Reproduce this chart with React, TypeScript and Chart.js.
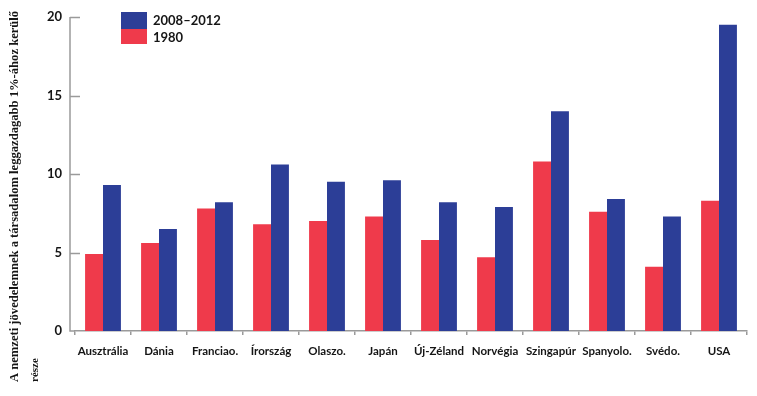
import React, { useEffect, useRef } from "react";
import { Chart, registerables } from "chart.js";

Chart.register(...registerables);

const categories = [
  "Ausztrália", "Dánia", "Franciao.", "Írország", "Olaszo.", "Japán",
  "Új-Zéland", "Norvégia", "Szingapúr", "Spanyolo.", "Svédo.", "USA",
];
const values1980 = [4.9, 5.6, 7.8, 6.8, 7.0, 7.3, 5.8, 4.7, 10.8, 7.6, 4.1, 8.3];
const values2008 = [9.3, 6.5, 8.2, 10.6, 9.5, 9.6, 8.2, 7.9, 14.0, 8.4, 7.3, 19.5];
const seriesLabels = ["1980", "2008–2012"];
const yTicks = [0, 5, 10, 15, 20];
const yTitle = [
  "A nemzeti jövedelemnek a társadalom leggazdagabb 1%-ához kerülő",
  "része",
];

const RED = "#ef3a4b";
const BLUE = "#2c3e97";
const AXIS = "#9a9a9a";
const TEXT = "#151515";
const AXIS_X = 70;

export default function App() {
  const ref = useRef<HTMLCanvasElement | null>(null);

  useEffect(() => {
    document.body.style.margin = "0";
    if (!ref.current) return;

    const extras = {
      id: "extras",
      afterDraw(chart: any) {
        const ctx = chart.ctx;
        const y = chart.scales.y;
        const area = chart.chartArea;
        ctx.save();
        // y axis line and inner ticks
        ctx.strokeStyle = AXIS;
        ctx.lineWidth = 1.5;
        ctx.beginPath();
        ctx.moveTo(AXIS_X, area.top);
        ctx.lineTo(AXIS_X, area.bottom);
        ctx.lineTo(area.left, area.bottom);
        ctx.stroke();
        yTicks.forEach((v) => {
          if (v === 0) return;
          const py = Math.round(y.getPixelForValue(v)) + 0.5;
          ctx.beginPath();
          ctx.moveTo(AXIS_X, py);
          ctx.lineTo(AXIS_X + 10, py);
          ctx.stroke();
        });
        // legend (top: later dataset)
        const lx = 121, lw = 26;
        const items = [
          { label: chart.data.datasets[1].label, color: chart.data.datasets[1].backgroundColor, y0: 12, h: 17 },
          { label: chart.data.datasets[0].label, color: chart.data.datasets[0].backgroundColor, y0: 29, h: 15 },
        ];
        ctx.font = "bold 13px Lato";
        ctx.textBaseline = "middle";
        ctx.textAlign = "left";
        items.forEach((it, i) => {
          ctx.fillStyle = it.color;
          ctx.fillRect(lx, it.y0, lw, it.h);
          ctx.fillStyle = TEXT;
          ctx.fillText(it.label, 153, i === 0 ? 21 : 38);
        });
        // rotated y title
        ctx.fillStyle = TEXT;
        ctx.textAlign = "left";
        ctx.textBaseline = "middle";
        const xs = [15, 35];
        const fonts = ["bold 12.6px 'Liberation Serif'", "bold 11px 'Liberation Serif'"];
        yTitle.forEach((line, i) => {
          ctx.save();
          ctx.font = fonts[i];
          ctx.translate(xs[i], 382);
          ctx.rotate(-Math.PI / 2);
          ctx.fillText(line, 0, 0);
          ctx.restore();
        });
        ctx.restore();
      },
    };

    const chart = new Chart(ref.current, {
      type: "bar",
      data: {
        labels: categories,
        datasets: [
          { label: seriesLabels[0], data: values1980, backgroundColor: RED, borderWidth: 0 },
          { label: seriesLabels[1], data: values2008, backgroundColor: BLUE, borderWidth: 0 },
        ],
      },
      options: {
        animation: false,
        responsive: false,
        devicePixelRatio: 1,
        layout: { padding: { left: 0, right: 10, top: 17, bottom: 0 } },
        plugins: { legend: { display: false }, tooltip: { enabled: false } },
        datasets: { bar: { categoryPercentage: 0.64, barPercentage: 1.0 } },
        scales: {
          x: {
            afterFit: (s: any) => { s.height = 65; },
            grid: { display: true, drawOnChartArea: false, offset: true, color: AXIS, tickLength: 4, lineWidth: 1.5 },
            border: { display: true, color: AXIS, width: 1.5 },
            ticks: { color: TEXT, font: { family: "Lato", size: 11.5, weight: "bold" }, padding: 9, maxRotation: 0, autoSkip: false },
          },
          y: {
            min: 0,
            max: 20,
            afterFit: (s: any) => { s.width = 75; s.paddingTop = 0; s.paddingBottom = 0; },
            afterBuildTicks: (s: any) => { s.ticks = yTicks.map((v) => ({ value: v })); },
            grid: { display: false, drawTicks: false },
            border: { display: false },
            ticks: { color: TEXT, font: { family: "Lato", size: 13, weight: "bold" }, padding: 13 },
          },
        },
      },
      plugins: [extras],
    } as any);
    return () => chart.destroy();
  }, []);

  return <canvas ref={ref} width={757} height={396} style={{ display: "block" }} />;
}
